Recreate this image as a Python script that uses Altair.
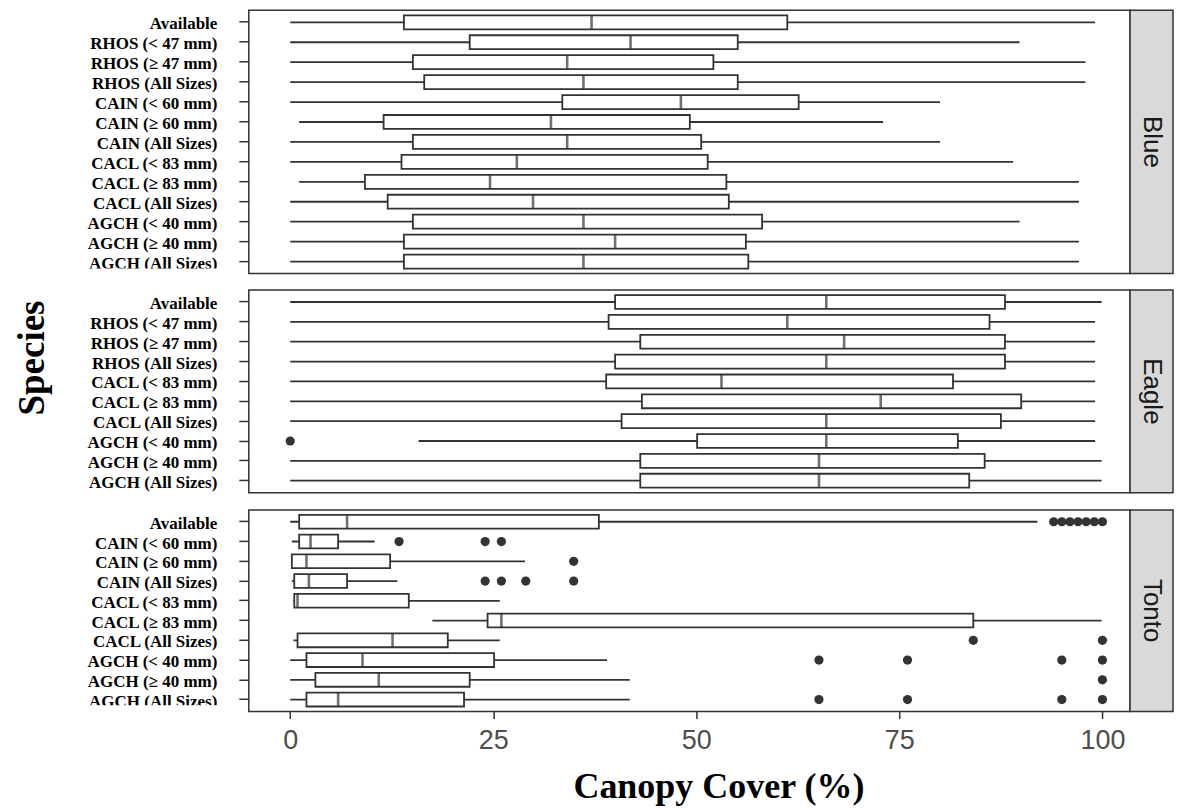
import altair as alt
import pandas as pd

x_ticks = [0, 25, 50, 75, 100]

blue_species = ["Available", "RHOS (< 47 mm)", "RHOS (≥ 47 mm)", "RHOS (All Sizes)",
                "CAIN (< 60 mm)", "CAIN (≥ 60 mm)", "CAIN (All Sizes)",
                "CACL (< 83 mm)", "CACL (≥ 83 mm)", "CACL (All Sizes)",
                "AGCH (< 40 mm)", "AGCH (≥ 40 mm)", "AGCH (All Sizes)"]
blue_min = [0, 0, 0, 0, 0, 1.1, 0, 0, 1.1, 0, 0, 0, 0]
blue_q1 = [14.0, 22.1, 15.1, 16.5, 33.5, 11.5, 15.1, 13.7, 9.2, 12.0, 15.1, 14.0, 14.0]
blue_med = [37.1, 41.9, 34.1, 36.1, 48.1, 32.1, 34.1, 27.9, 24.6, 29.9, 36.1, 40.0, 36.1]
blue_q3 = [61.2, 55.1, 52.1, 55.1, 62.6, 49.2, 50.6, 51.4, 53.7, 54.0, 58.1, 56.1, 56.4]
blue_max = [99.1, 89.8, 97.9, 97.9, 80.0, 73.0, 80.0, 89.0, 97.1, 97.1, 89.8, 97.1, 97.1]
blue_out_species = []
blue_out_values = []

eagle_species = ["Available", "RHOS (< 47 mm)", "RHOS (≥ 47 mm)", "RHOS (All Sizes)",
                 "CACL (< 83 mm)", "CACL (≥ 83 mm)", "CACL (All Sizes)",
                 "AGCH (< 40 mm)", "AGCH (≥ 40 mm)", "AGCH (All Sizes)"]
eagle_min = [0, 0, 0, 0, 0, 0, 0, 15.8, 0, 0]
eagle_q1 = [40.0, 39.2, 43.1, 40.0, 38.9, 43.3, 40.8, 50.1, 43.1, 43.1]
eagle_med = [66.0, 61.2, 68.2, 66.0, 53.1, 72.7, 66.0, 66.0, 65.1, 65.1]
eagle_q3 = [88.0, 86.1, 88.0, 88.0, 81.6, 90.0, 87.5, 82.2, 85.5, 83.6]
eagle_max = [99.9, 99.1, 99.1, 99.1, 99.1, 99.1, 99.1, 99.1, 99.9, 99.9]
eagle_out_species = ["AGCH (< 40 mm)"]
eagle_out_values = [0]

tonto_species = ["Available", "CAIN (< 60 mm)", "CAIN (≥ 60 mm)", "CAIN (All Sizes)",
                 "CACL (< 83 mm)", "CACL (≥ 83 mm)", "CACL (All Sizes)",
                 "AGCH (< 40 mm)", "AGCH (≥ 40 mm)", "AGCH (All Sizes)"]
tonto_min = [0, 0.2, 0.2, 0.2, 0.4, 17.5, 0.4, 0, 0, 0]
tonto_q1 = [1.1, 1.1, 0.2, 0.5, 0.5, 24.3, 0.9, 2.0, 3.1, 2.0]
tonto_med = [7.0, 2.5, 2.0, 2.3, 0.9, 26.0, 12.6, 8.9, 10.9, 5.9]
tonto_q3 = [38.0, 5.9, 12.3, 7.0, 14.6, 84.1, 19.4, 25.1, 22.1, 21.4]
tonto_max = [92.0, 10.4, 28.9, 13.2, 25.8, 99.9, 25.8, 39.0, 41.8, 41.8]
tonto_out_species = (["Available"] * 7 + ["CAIN (< 60 mm)"] * 3 + ["CAIN (≥ 60 mm)"]
                     + ["CAIN (All Sizes)"] * 4 + ["CACL (All Sizes)"] * 2
                     + ["AGCH (< 40 mm)"] * 4 + ["AGCH (≥ 40 mm)"] + ["AGCH (All Sizes)"] * 4)
tonto_out_values = [94, 95, 96, 97, 98, 99, 100,
                    13.4, 24.0, 26.0,
                    34.9,
                    24.0, 26.0, 29.0, 34.9,
                    84.1, 100,
                    65.1, 76.0, 95.0, 100,
                    100,
                    65.1, 76.0, 95.0, 100]

DARK = "#333333"
PW = 882
LW = 1.8


def panel(site, species, mins, q1, med, q3, maxs, out_sp, out_v, height,
          show_x=False, species_title=False, cover=None):
    box = pd.DataFrame({"species": species, "lo": mins, "q1": q1, "med": med,
                        "q3": q3, "hi": maxs})
    out = pd.DataFrame({"species": out_sp, "value": out_v})
    n = len(species)
    step = height / (n + 0.2)
    bandh = 0.7 * step

    xscale = alt.Scale(domain=[-5.1, 103.4], nice=False, zero=False)
    if show_x:
        xaxis = alt.Axis(values=x_ticks, title="Canopy Cover (%)",
                         titleFont="Liberation Serif", titleFontWeight="bold",
                         titleFontSize=36, titleColor="black",
                         titleX=470, titleY=86, titleBaseline="alphabetic",
                         titleAlign="center",
                         labelFont="Liberation Sans", labelFontSize=27,
                         labelColor="#4D4D4D", labelPadding=9,
                         tickSize=7, tickColor=DARK, tickWidth=1.5,
                         domain=False, grid=False, labelFlush=False)
    else:
        xaxis = None

    yenc = alt.Y("species:N", sort=species,
                 scale=alt.Scale(domain=species, paddingInner=0.3, paddingOuter=0.25),
                 axis=alt.Axis(title=None, labelFont="Liberation Serif",
                               labelFontWeight="bold", labelFontSize=17,
                               labelColor="black", labelPadding=22, labelOffset=2,
                               tickSize=10, tickColor=DARK, tickWidth=1.5,
                               domain=False, grid=False, labelLimit=400))

    whisk = alt.Chart(box).mark_rule(color=DARK, strokeWidth=LW).encode(
        x=alt.X("lo:Q", scale=xscale, axis=xaxis), x2="hi:Q", y=yenc)
    bx = alt.Chart(box).mark_bar(fill="white", stroke=DARK, strokeWidth=LW).encode(
        x=alt.X("q1:Q", scale=xscale, axis=xaxis), x2="q3:Q", y=yenc)
    medt = alt.Chart(box).mark_tick(color=DARK, thickness=2.6, size=bandh).encode(
        x=alt.X("med:Q", scale=xscale, axis=xaxis), y=yenc)
    layers = [whisk, bx, medt]
    if len(out):
        pts = alt.Chart(out).mark_circle(size=85, color=DARK, opacity=1).encode(
            x=alt.X("value:Q", scale=xscale, axis=xaxis), y=yenc)
        layers.append(pts)

    sdf = pd.DataFrame({"site": [site]})
    strip = alt.Chart(sdf).mark_rect(fill="#D9D9D9", stroke=DARK, strokeWidth=1.5).encode(
        x=alt.value(PW), x2=alt.value(925), y=alt.value(0), y2=alt.value(height))
    stext = alt.Chart(sdf).mark_text(angle=90, font="Liberation Sans", fontSize=26,
                                     color="#1A1A1A", align="center",
                                     baseline="middle").encode(
        x=alt.value(904), y=alt.value(height / 2), text="site:N")
    layers += [strip, stext]

    if cover is not None:
        cdf = pd.DataFrame({"c": [1]})
        cov = alt.Chart(cdf).mark_rect(fill="white").encode(
            x=alt.value(-200), x2=alt.value(-13), y=alt.value(cover), y2=alt.value(height))
        layers.append(cov)

    if species_title:
        tdf = pd.DataFrame({"t": ["Species"]})
        st = alt.Chart(tdf).mark_text(angle=270, font="Liberation Serif",
                                      fontWeight="bold", fontSize=37, color="black",
                                      align="center", baseline="middle").encode(
            x=alt.value(-216), y=alt.value(68), text="t:N")
        layers.append(st)

    return alt.layer(*layers).properties(width=PW, height=height)


blue = panel("Blue", blue_species, blue_min, blue_q1, blue_med, blue_q3, blue_max,
             blue_out_species, blue_out_values, 263.4, cover=258.5)
eagle = panel("Eagle", eagle_species, eagle_min, eagle_q1, eagle_med, eagle_q3, eagle_max,
              eagle_out_species, eagle_out_values, 202.7, species_title=True)
tonto = panel("Tonto", tonto_species, tonto_min, tonto_q1, tonto_med, tonto_q3, tonto_max,
              tonto_out_species, tonto_out_values, 201.7, show_x=True, cover=195.5)

chart = alt.vconcat(blue, eagle, tonto, spacing=13).resolve_scale(
    x="independent", y="independent").properties(
    padding={"left": 5, "top": 0, "right": 0, "bottom": 0}).configure(
    background="white").configure_view(stroke=DARK, strokeWidth=1.5)

chart.save("out.html", embed_options={"renderer": "svg", "actions": False})
